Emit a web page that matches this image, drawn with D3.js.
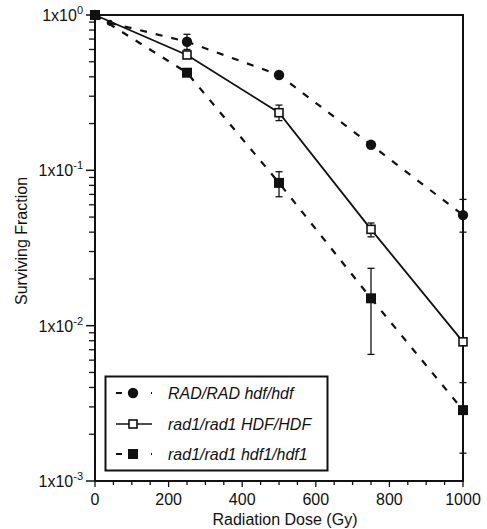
<!DOCTYPE html>
<html>
<head>
<meta charset="utf-8">
<script src="https://cdn.jsdelivr.net/npm/d3@7"></script>
<style>
  body { margin: 0; background: #fff; }
  text { font-family: "Liberation Sans", Arial, Helvetica, sans-serif; fill: #111; }
</style>
</head>
<body>
<div id="chart"></div>
<script>
// survival data
var doses = [0, 250, 500, 750, 1000];

var radDoses = [0, 40, 250, 500, 750, 1000];
var radSurv  = [1, 0.89, 0.673, 0.411, 0.146, 0.0515];
var radLo    = [1, 0.89, 0.60, 0.40, 0.142, 0.040];
var radHi    = [1, 0.89, 0.751, 0.425, 0.151, 0.065];

var hdfSurv = [1, 0.553, 0.235, 0.0417, 0.00787];
var hdfLo   = [1, 0.53, 0.209, 0.0373, 0.0077];
var hdfHi   = [1, 0.575, 0.263, 0.0458, 0.0081];

var hdf1Surv = [1, 0.425, 0.083, 0.015, 0.00286];
var hdf1Lo   = [1, 0.41, 0.0676, 0.00653, 0.00151];
var hdf1Hi   = [1, 0.44, 0.098, 0.0234, 0.0043];

var xTicks = [0, 200, 400, 600, 800, 1000];
var yTicks = [1, 0.1, 0.01, 0.001];
var yTickExp = ["0", "-1", "-2", "-3"];
var legendLabels = ["RAD/RAD hdf/hdf", "rad1/rad1 HDF/HDF", "rad1/rad1 hdf1/hdf1"];

var width = 487, height = 529;
var margin = {top: 15, right: 24, bottom: 48, left: 95};

var x = d3.scaleLinear().domain([0, 1000]).range([margin.left, width - margin.right]);
var y = d3.scaleLog().domain([0.001, 1]).range([height - margin.bottom, margin.top]);

var svg = d3.select("#chart").append("svg")
  .attr("width", width)
  .attr("height", height);

function rows(xs, v, lo, hi) {
  return xs.map(function(d, i) { return {x: d, v: v[i], lo: lo[i], hi: hi[i]}; });
}
var seriesRad = rows(radDoses, radSurv, radLo, radHi);
var seriesHdf = rows(doses, hdfSurv, hdfLo, hdfHi);
var seriesHdf1 = rows(doses, hdf1Surv, hdf1Lo, hdf1Hi);

// frame (top + right)
svg.append("path")
  .attr("d", "M" + x(0) + "," + y(1) + "H" + x(1000) + "V" + y(0.001))
  .attr("fill", "none").attr("stroke", "#111").attr("stroke-width", 2);

// x axis
var xMinor = d3.range(0, 1001, 50);
svg.append("g")
  .selectAll("line").data(xMinor).enter().append("line")
  .attr("x1", function(d) { return x(d); })
  .attr("x2", function(d) { return x(d); })
  .attr("y1", y(0.001))
  .attr("y2", function(d) { return y(0.001) + (d % 200 == 0 ? 6 : 4); })
  .attr("stroke", "#111").attr("stroke-width", 1.3);
svg.append("line")
  .attr("x1", x(0) - 1).attr("x2", x(1000) + 1)
  .attr("y1", y(0.001)).attr("y2", y(0.001))
  .attr("stroke", "#111").attr("stroke-width", 2);
svg.append("g")
  .selectAll("text").data(xTicks).enter().append("text")
  .attr("x", function(d) { return x(d); })
  .attr("y", 505)
  .attr("text-anchor", "middle")
  .style("font-size", "16px")
  .text(function(d) { return d; });
svg.append("text")
  .attr("x", 285).attr("y", 525)
  .attr("text-anchor", "middle")
  .style("font-size", "16px")
  .text("Radiation Dose (Gy)");

// y axis
var yMinor = [];
[0.001, 0.01, 0.1].forEach(function(dec) {
  for (var k = 2; k <= 9; k++) yMinor.push(dec * k);
});
svg.append("g")
  .selectAll("line").data(yMinor).enter().append("line")
  .attr("x1", x(0) - 6).attr("x2", x(0))
  .attr("y1", function(d) { return y(d); })
  .attr("y2", function(d) { return y(d); })
  .attr("stroke", "#111").attr("stroke-width", 1.3);
svg.append("g")
  .selectAll("line").data(yTicks).enter().append("line")
  .attr("x1", x(0) - 9).attr("x2", x(0))
  .attr("y1", function(d) { return y(d); })
  .attr("y2", function(d) { return y(d); })
  .attr("stroke", "#111").attr("stroke-width", 1.5);
svg.append("line")
  .attr("x1", x(0)).attr("x2", x(0))
  .attr("y1", y(1)).attr("y2", y(0.001))
  .attr("stroke", "#111").attr("stroke-width", 2);

var yl = svg.append("g")
  .selectAll("text").data(yTicks).enter().append("text")
  .attr("x", 83)
  .attr("y", function(d) { return y(d) + 6; })
  .attr("text-anchor", "end")
  .style("font-size", "16px");
yl.append("tspan").text("1x10");
yl.append("tspan")
  .attr("dy", -7)
  .style("font-size", "11px")
  .text(function(d, i) { return yTickExp[i]; });

svg.append("text")
  .attr("transform", "translate(27,241) rotate(-90)")
  .attr("text-anchor", "middle")
  .style("font-size", "16px")
  .text("Surviving Fraction");

// lines
var line = d3.line()
  .x(function(d) { return x(d.x); })
  .y(function(d) { return y(d.v); });

svg.append("path").datum(seriesRad)
  .attr("d", line).attr("fill", "none")
  .attr("stroke", "#111").attr("stroke-width", 2.2)
  .attr("stroke-dasharray", "7,9");
svg.append("path").datum(seriesHdf1)
  .attr("d", line).attr("fill", "none")
  .attr("stroke", "#111").attr("stroke-width", 2.2)
  .attr("stroke-dasharray", "7,9");
svg.append("path").datum(seriesHdf)
  .attr("d", line).attr("fill", "none")
  .attr("stroke", "#111").attr("stroke-width", 1.8);

// error bars
function errorBars(data) {
  var g = svg.append("g").attr("stroke", "#111").attr("stroke-width", 1.3);
  var e = data.filter(function(d) { return d.hi > d.lo; });
  g.selectAll(".v").data(e).enter().append("line")
    .attr("x1", function(d) { return x(d.x); })
    .attr("x2", function(d) { return x(d.x); })
    .attr("y1", function(d) { return y(d.hi); })
    .attr("y2", function(d) { return y(d.lo); });
  g.selectAll(".t").data(e).enter().append("line")
    .attr("x1", function(d) { return x(d.x) - 3.5; })
    .attr("x2", function(d) { return x(d.x) + 3.5; })
    .attr("y1", function(d) { return y(d.hi); })
    .attr("y2", function(d) { return y(d.hi); });
  g.selectAll(".b").data(e).enter().append("line")
    .attr("x1", function(d) { return x(d.x) - 3.5; })
    .attr("x2", function(d) { return x(d.x) + 3.5; })
    .attr("y1", function(d) { return y(d.lo); })
    .attr("y2", function(d) { return y(d.lo); });
}
errorBars(seriesRad);
errorBars(seriesHdf);
errorBars(seriesHdf1);

// markers
svg.append("g").selectAll("circle").data(seriesRad).enter().append("circle")
  .attr("cx", function(d) { return x(d.x); })
  .attr("cy", function(d) { return y(d.v); })
  .attr("r", function(d) { return d.x == 40 ? 3 : 5.2; })
  .attr("fill", "#111");
svg.append("g").selectAll("rect").data(seriesHdf).enter().append("rect")
  .attr("x", function(d) { return x(d.x) - 4; })
  .attr("y", function(d) { return y(d.v) - 4; })
  .attr("width", 8).attr("height", 8)
  .attr("fill", "#fff").attr("stroke", "#111").attr("stroke-width", 1.6);
svg.append("g").selectAll("rect").data(seriesHdf1).enter().append("rect")
  .attr("x", function(d) { return x(d.x) - 5; })
  .attr("y", function(d) { return y(d.v) - 5; })
  .attr("width", 10).attr("height", 10)
  .attr("fill", "#111");

// legend
var lg = svg.append("g");
lg.append("rect")
  .attr("x", 105.5).attr("y", 376.5)
  .attr("width", 222).attr("height", 94)
  .attr("fill", "#fff").attr("stroke", "#111").attr("stroke-width", 2);
var legY = [393, 424, 454];
legendLabels.forEach(function(lab, i) {
  var yy = legY[i];
  var ln = lg.append("line")
    .attr("x1", 116).attr("x2", 152)
    .attr("y1", yy).attr("y2", yy)
    .attr("stroke", "#111");
  if (i == 1) {
    ln.attr("stroke-width", 1.6);
    lg.append("rect").attr("x", 129).attr("y", yy - 4).attr("width", 8).attr("height", 8)
      .attr("fill", "#fff").attr("stroke", "#111").attr("stroke-width", 1.6);
  } else {
    ln.attr("stroke-width", 2.2).attr("stroke-dasharray", "6,29");
    if (i == 0) {
      lg.append("circle").attr("cx", 133).attr("cy", yy).attr("r", 5.2).attr("fill", "#111");
    } else {
      lg.append("rect").attr("x", 128).attr("y", yy - 5).attr("width", 10).attr("height", 10).attr("fill", "#111");
    }
  }
  lg.append("text")
    .attr("x", 168).attr("y", yy + 6)
    .style("font-size", "16px")
    .style("font-style", "italic")
    .text(lab);
});
</script>
</body>
</html>
